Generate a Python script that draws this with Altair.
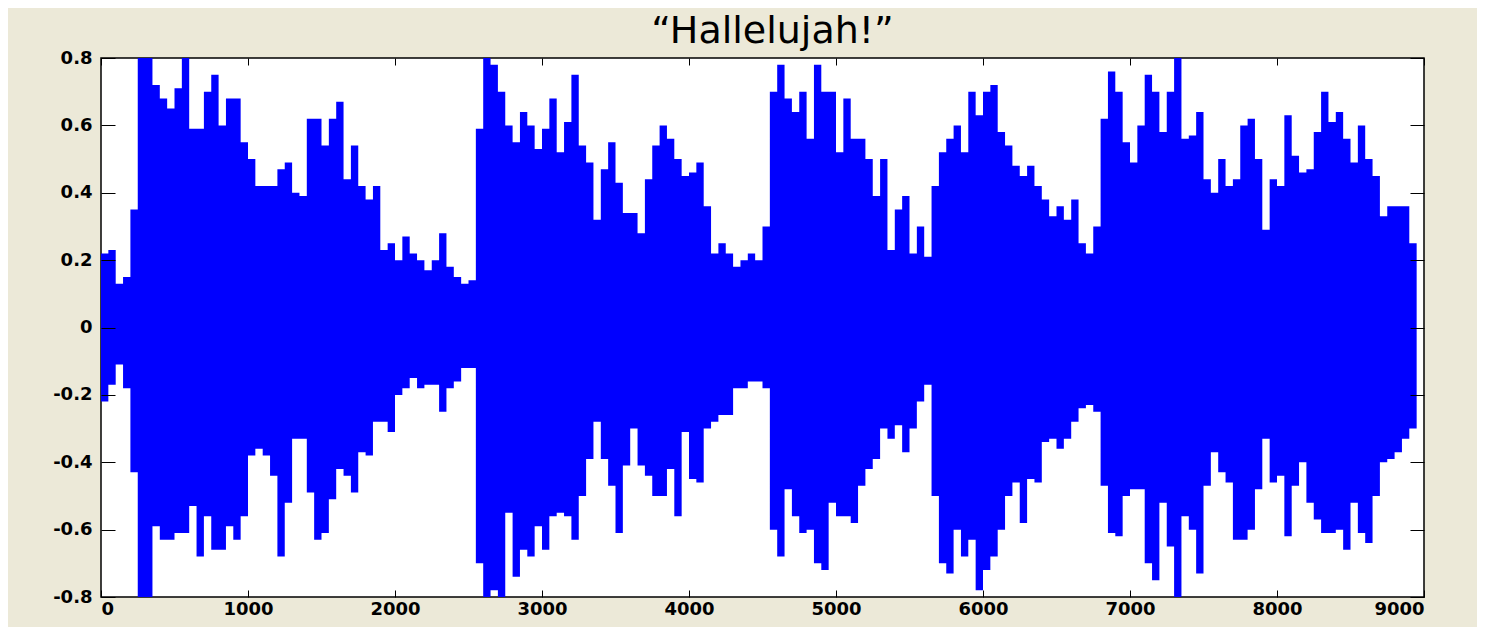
import altair as alt
import pandas as pd

BIN = 50  # samples per envelope step

upper = [0.22, 0.23, 0.13, 0.15, 0.35, 0.8, 0.8, 0.72, 0.68, 0.65, 0.71, 0.8, 0.59, 0.59, 0.7, 0.75, 0.6, 0.68, 0.68, 0.55, 0.5, 0.42, 0.42, 0.42, 0.47, 0.49,
         0.4, 0.39, 0.62, 0.62, 0.54, 0.62, 0.67, 0.44, 0.54, 0.42, 0.38, 0.42, 0.23, 0.25, 0.2, 0.27, 0.22, 0.2, 0.17, 0.2, 0.28, 0.18, 0.15, 0.13, 0.14,
         0.59, 0.8, 0.78, 0.7, 0.6, 0.55, 0.64, 0.6, 0.53, 0.59, 0.68, 0.52, 0.61, 0.75, 0.54, 0.49, 0.32, 0.47, 0.55, 0.43, 0.34, 0.34, 0.28, 0.44, 0.54, 0.6,
         0.56, 0.5, 0.45, 0.46, 0.49, 0.36, 0.22, 0.25, 0.22, 0.18, 0.2, 0.22, 0.2, 0.3, 0.7, 0.78, 0.68, 0.64, 0.7, 0.56, 0.78, 0.7, 0.7, 0.52, 0.68,
         0.56, 0.56, 0.5, 0.39, 0.5, 0.23, 0.35, 0.39, 0.22, 0.3, 0.21, 0.42, 0.52, 0.56, 0.6, 0.52, 0.7, 0.63, 0.7, 0.72, 0.58, 0.54, 0.48, 0.45, 0.48, 0.42,
         0.38, 0.33, 0.36, 0.32, 0.38, 0.25, 0.22, 0.3, 0.62, 0.76, 0.7, 0.55, 0.49, 0.6, 0.75, 0.7, 0.58, 0.7, 0.8, 0.56, 0.57, 0.64, 0.44, 0.4, 0.5, 0.42,
         0.44, 0.6, 0.62, 0.5, 0.29, 0.44, 0.42, 0.63, 0.51, 0.46, 0.47, 0.58, 0.7, 0.61, 0.64, 0.56, 0.49, 0.6, 0.5, 0.45, 0.33, 0.36, 0.36, 0.36, 0.25]

lower = [-0.22, -0.17, -0.11, -0.18, -0.43, -0.8, -0.8, -0.59, -0.63, -0.63, -0.61, -0.61, -0.53, -0.68, -0.56, -0.66, -0.66, -0.59, -0.63, -0.56, -0.38, -0.36, -0.38, -0.44, -0.68, -0.52,
         -0.33, -0.33, -0.49, -0.63, -0.61, -0.51, -0.42, -0.44, -0.49, -0.37, -0.38, -0.28, -0.28, -0.31, -0.2, -0.18, -0.15, -0.18, -0.17, -0.17, -0.25, -0.18, -0.16, -0.12, -0.12,
         -0.7, -0.8, -0.78, -0.8, -0.55, -0.74, -0.66, -0.68, -0.59, -0.66, -0.56, -0.55, -0.56, -0.63, -0.5, -0.39, -0.28, -0.39, -0.47, -0.61, -0.41, -0.3, -0.41, -0.44, -0.5, -0.5,
         -0.42, -0.56, -0.31, -0.45, -0.46, -0.3, -0.28, -0.26, -0.26, -0.18, -0.18, -0.16, -0.16, -0.18, -0.6, -0.68, -0.48, -0.56, -0.61, -0.6, -0.7, -0.72, -0.52, -0.56, -0.56,
         -0.58, -0.47, -0.42, -0.39, -0.3, -0.33, -0.29, -0.37, -0.3, -0.22, -0.17, -0.5, -0.7, -0.73, -0.6, -0.68, -0.63, -0.78, -0.72, -0.68, -0.6, -0.5, -0.46, -0.58, -0.45, -0.46,
         -0.34, -0.33, -0.36, -0.33, -0.28, -0.24, -0.23, -0.25, -0.47, -0.61, -0.62, -0.5, -0.48, -0.48, -0.7, -0.75, -0.52, -0.65, -0.8, -0.56, -0.6, -0.73, -0.47, -0.37, -0.43, -0.46,
         -0.63, -0.63, -0.6, -0.48, -0.33, -0.46, -0.44, -0.62, -0.47, -0.4, -0.52, -0.57, -0.61, -0.61, -0.6, -0.66, -0.52, -0.61, -0.64, -0.5, -0.4, -0.39, -0.37, -0.33, -0.3]

x_ticks = [0, 1000, 2000, 3000, 4000, 5000, 6000, 7000, 8000, 9000]
y_ticks = [-0.8, -0.6, -0.4, -0.2, 0, 0.2, 0.4, 0.6, 0.8]
title_text = "\u201cHallelujah!\u201d"

W, H = 1323, 539

xs = [i * BIN for i in range(len(upper))] + [len(upper) * BIN]
df = pd.DataFrame({"sample": xs, "hi": upper + [upper[-1]], "lo": lower + [lower[-1]]})
title_df = pd.DataFrame({"t": [title_text]})

xscale = alt.Scale(domain=[0, 9000], nice=False, zero=False)
yscale = alt.Scale(domain=[-0.8, 0.8], nice=False)

FONT = "DejaVu Sans"
common = dict(labelFont=FONT, labelFontSize=18, labelFontWeight="bold", labelColor="black",
              tickColor="black", tickWidth=1, domain=False, grid=False, title=None, zindex=1)
ylabel = "datum.value == 0 ? '0' : (datum.value < 0 ? '-' : '') + format(abs(datum.value), '.1f')"

area = alt.Chart(df).mark_area(interpolate="step-after", color="#0000FF", clip=True).encode(
    x=alt.X("sample:Q", scale=xscale,
            axis=alt.Axis(orient="bottom", values=x_ticks, tickSize=7, offset=-7, labelPadding=3,
                          format="d", **common)),
    y=alt.Y("hi:Q", scale=yscale,
            axis=alt.Axis(orient="left", values=y_ticks, tickSize=14, offset=-14, labelPadding=9,
                          labelExpr=ylabel, **common)),
    y2="lo:Q",
)

frame = alt.Chart(df).mark_point(opacity=0).encode(
    x=alt.X("sample:Q", scale=xscale,
            axis=alt.Axis(orient="top", values=x_ticks, tickSize=7, offset=-7, labels=False, **common)),
    y=alt.Y("hi:Q", scale=yscale,
            axis=alt.Axis(orient="right", values=y_ticks, tickSize=14, offset=-14, labels=False, **common)),
)

title = alt.Chart(title_df).mark_text(
    font=FONT, fontSize=38, color="black", align="center", baseline="alphabetic"
).encode(text="t:N", x=alt.value(W / 2 + 10), y=alt.value(-15))

chart = (
    alt.layer(area, frame, title)
    .resolve_axis(x="independent", y="independent")
    .properties(
        width=W,
        height=H,
        background="#ECE9D8",
        padding={"left": 93, "top": 50, "right": 53, "bottom": 30},
        autosize=alt.AutoSizeParams(type="none"),
    )
    .configure_view(fill="white", stroke="black", strokeWidth=1.5)
)

chart.save("out.html", embed_options={"renderer": "svg", "actions": False})
